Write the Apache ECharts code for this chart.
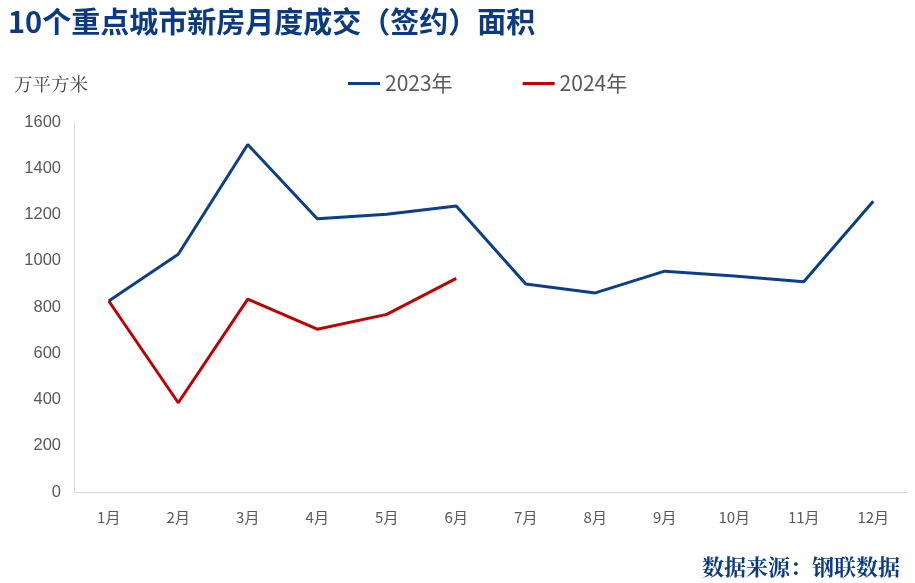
<!DOCTYPE html>
<html>
<head>
<meta charset="utf-8">
<script src="https://cdn.jsdelivr.net/npm/echarts@6/dist/echarts.min.js"></script>
<style>
html,body{margin:0;padding:0;background:#fff;}
#c{width:915px;height:583px;}
</style>
</head>
<body>
<div id="c"></div>
<script>
const months = ['1月','2月','3月','4月','5月','6月','7月','8月','9月','10月','11月','12月'];
const series2023 = [826, 1028, 1503, 1182, 1201, 1237, 899, 861, 955, 934, 909, 1257];
const series2024 = [826, 386, 834, 704, 768, 924];
const yTicks = {min: 0, max: 1600, interval: 200};

const narrowFont = '"Liberation Sans Narrow", "Noto Sans CJK SC", sans-serif';
const numFont = '"Liberation Sans", "Noto Sans CJK SC", sans-serif';
const cjkSerif = '"Noto Serif CJK SC", "Noto Sans CJK SC", serif';
const chart = echarts.init(document.getElementById('c'));
chart.setOption({
  backgroundColor: '#fff',
  animation: false,
  title: [
    {text: '10个重点城市新房月度成交（签约）面积', left: 3, top: 2,
     textStyle: {fontFamily: '"Noto Sans CJK SC", sans-serif', fontWeight: 'bold', fontSize: 29, color: '#0B3A80'}},
    {text: '万平方米', left: 9, top: 70,
     textStyle: {fontFamily: cjkSerif, fontWeight: 'normal', fontSize: 18.5, color: '#404040'}},
    {text: '数据来源：钢联数据', right: 10, top: 551,
     textStyle: {fontFamily: cjkSerif, fontWeight: 'bold', fontSize: 22, color: '#0B3A80'}}
  ],
  legend: {
    top: 68, left: 343, itemGap: 70, itemWidth: 32, itemHeight: 3,
    icon: 'rect',
    textStyle: {fontFamily: narrowFont, fontSize: 21, color: '#595959'},
    data: ['2023年', '2024年']
  },
  grid: {left: 74, right: 7, top: 122, bottom: 91},
  xAxis: {
    type: 'category', data: months, boundaryGap: true,
    axisLine: {lineStyle: {color: '#D9D9D9', width: 1}},
    axisTick: {show: false},
    axisLabel: {fontFamily: narrowFont, fontSize: 15, color: '#595959', margin: 18}
  },
  yAxis: {
    type: 'value', min: yTicks.min, max: yTicks.max, interval: yTicks.interval,
    axisLine: {show: true, lineStyle: {color: '#D9D9D9', width: 1}},
    axisTick: {show: false},
    splitLine: {show: false},
    axisLabel: {fontFamily: numFont, fontSize: 16.5, color: '#595959', margin: 13,
      formatter: v => String(v)}
  },
  series: [
    {name: '2023年', type: 'line', data: series2023, symbol: 'none',
     lineStyle: {color: '#0B3F8A', width: 3}, itemStyle: {color: '#0B3F8A'}},
    {name: '2024年', type: 'line', data: series2024, symbol: 'none',
     lineStyle: {color: '#C00000', width: 3}, itemStyle: {color: '#C00000'}}
  ]
});
</script>
</body>
</html>
